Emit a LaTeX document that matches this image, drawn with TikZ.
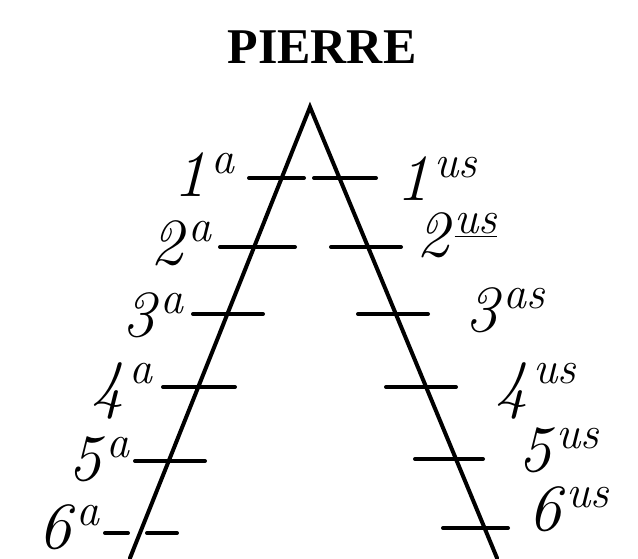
\documentclass[tikz,border=0pt]{standalone}
\usepackage{fontspec}
\newfontfamily\pierrefont{Liberation Serif}
\newcommand\pflab[2]{{\itshape #1\kern0.08em\raisebox{0.34em}{\fontsize{23}{23}\selectfont #2}}}
\tikzset{
  side/.style={line width=2pt, line cap=round},
  tick/.style={line width=2pt, line cap=round},
  lab/.style={inner sep=0pt, font=\fontsize{33}{35}\selectfont},
}
\begin{document}
\begin{tikzpicture}[x=0.5pt, y=-0.5pt]
\useasboundingbox (0,0) rectangle (638,558);
\node[inner sep=0pt, anchor=base, font=\pierrefont\bfseries\fontsize{25}{27}\selectfont] (title) at (322,63) {PIERRE};
% triangle sides
\coordinate (apex) at (310,107);
\coordinate (bl) at (130,558);
\coordinate (br) at (497,558);
\draw[side] (bl) -- (apex) -- (br);
% left ticks
\coordinate (l1a) at (249,178); \coordinate (l1b) at (304,178);
\coordinate (l2a) at (220,247); \coordinate (l2b) at (295,247);
\coordinate (l3a) at (193,314); \coordinate (l3b) at (263,314);
\coordinate (l4a) at (163,387); \coordinate (l4b) at (235,387);
\coordinate (l5a) at (135,461); \coordinate (l5b) at (205,461);
\coordinate (l6a) at (105,533); \coordinate (l6b) at (128,533);
\coordinate (l6c) at (147,533); \coordinate (l6d) at (177,533);
\foreach \i in {1,...,5} {\draw[tick] (l\i a) -- (l\i b);}
\draw[tick] (l6a) -- (l6b);
\draw[tick] (l6c) -- (l6d);
% right ticks
\coordinate (r1a) at (314,178); \coordinate (r1b) at (376,178);
\coordinate (r2a) at (331,247); \coordinate (r2b) at (401,247);
\coordinate (r3a) at (358,314); \coordinate (r3b) at (428,314);
\coordinate (r4a) at (386,387); \coordinate (r4b) at (456,387);
\coordinate (r5a) at (415,459); \coordinate (r5b) at (483,459);
\coordinate (r6a) at (443,528); \coordinate (r6b) at (508,528);
\foreach \i in {1,...,6} {\draw[tick] (r\i a) -- (r\i b);}
% left labels
\node[lab, anchor=base east] (la1) at (235,196) {\pflab{1}{a}};
\node[lab, anchor=base east] (la2) at (212,264) {\pflab{2}{a}};
\node[lab, anchor=base east] (la3) at (184,336) {\pflab{3}{a}};
\node[lab, anchor=base east] (la4) at (153,406) {\pflab{4}{a}};
\node[lab, anchor=base east] (la5) at (130,480) {\pflab{5}{a}};
\node[lab, anchor=base east] (la6) at (100,548) {\pflab{6}{a}};
% right labels
\node[lab, anchor=base west] (ra1) at (396,200) {\pflab{1}{us}};
\node[lab, anchor=base west] (ra2) at (416,256) {\pflab{2}{\underline{us}}};
\node[lab, anchor=base west] (ra3) at (465,331) {\pflab{3}{as}};
\node[lab, anchor=base west] (ra4) at (495,406) {\pflab{4}{us}};
\node[lab, anchor=base west] (ra5) at (518,471) {\pflab{5}{us}};
\node[lab, anchor=base west] (ra6) at (528,530) {\pflab{6}{us}};
\end{tikzpicture}
\end{document}
